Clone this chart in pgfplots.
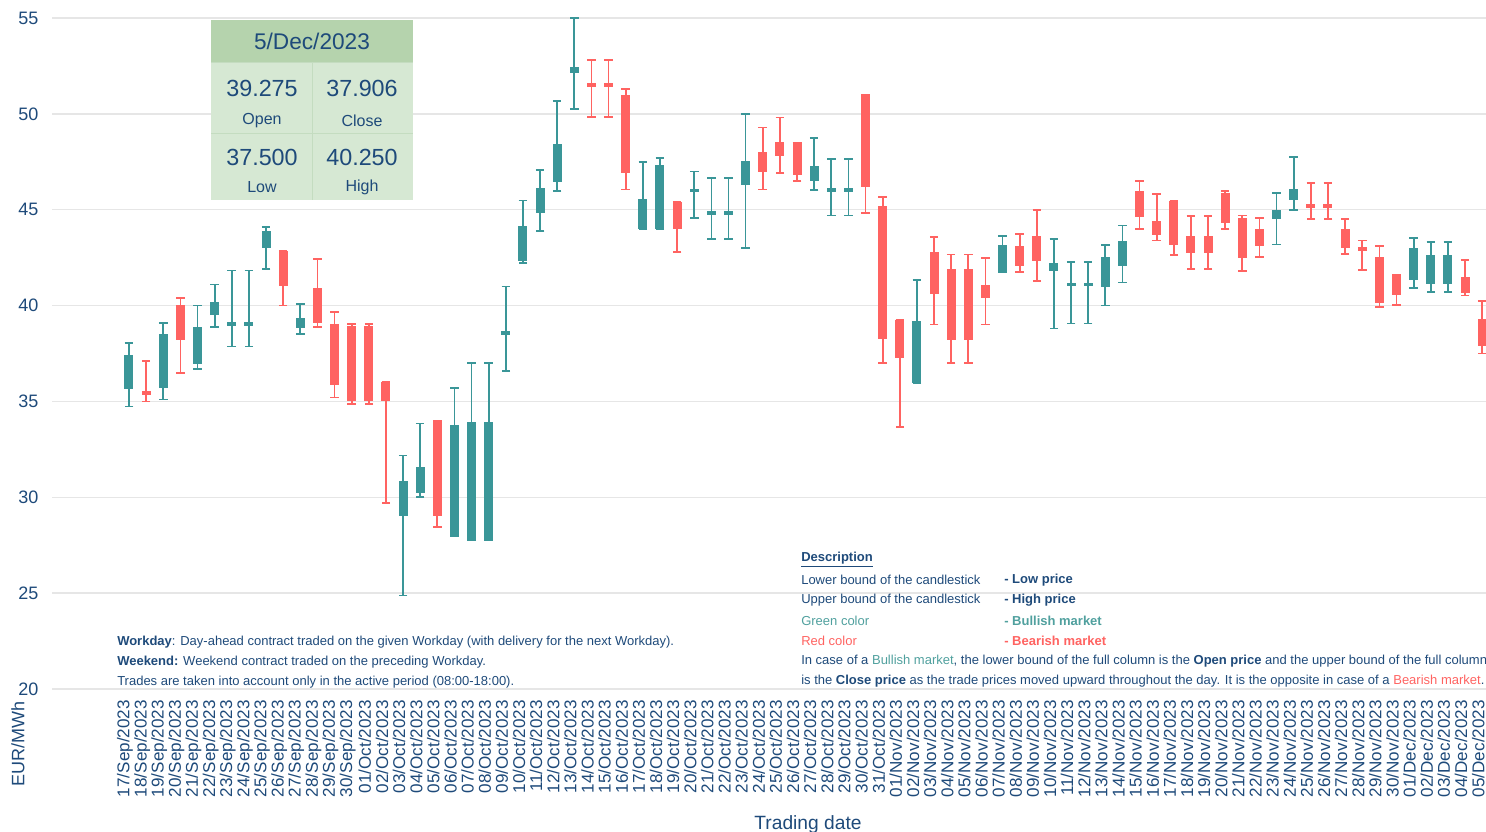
\documentclass[border=0pt]{standalone}
\usepackage{fontspec}
\setmainfont{Liberation Sans}
\usepackage{pgfplots}
\pgfplotsset{compat=1.18}
\usepackage{pgfplotstable}
\definecolor{navy}{RGB}{30,74,122}
\definecolor{bull}{RGB}{58,150,152}
\definecolor{bear}{RGB}{255,99,97}
\definecolor{hdr}{RGB}{181,211,173}
\definecolor{cell}{RGB}{214,232,211}
\definecolor{cellline}{RGB}{196,220,192}
\definecolor{gridc}{RGB}{230,230,230}
\definecolor{bulltxt}{RGB}{80,160,158}

\pgfplotstableread{
x o h l c
0 35.64 38.03 34.74 37.42
2 35.71 39.08 35.10 38.52
4 36.97 40.00 36.69 38.89
5 39.50 41.10 38.90 40.21
6 38.95 41.83 37.87 39.10
7 38.95 41.83 37.87 39.10
8 43.00 44.11 41.92 43.89
10 38.83 40.07 38.50 39.34
16 29.01 32.18 24.88 30.84
17 30.24 33.85 30.00 31.60
19 27.96 35.71 27.96 33.79
20 27.79 37.00 27.79 33.92
21 27.79 37.00 27.79 33.92
22 38.45 41.00 36.59 38.67
23 42.35 45.48 42.22 44.15
24 44.82 47.06 43.89 46.15
25 46.46 50.66 45.98 48.44
26 52.11 55.00 50.25 52.43
30 43.97 47.49 43.97 45.55
31 43.97 47.71 43.97 47.34
33 45.96 47.00 44.56 46.04
34 44.75 46.67 43.48 44.90
35 44.75 46.67 43.48 44.90
36 46.28 50.00 43.02 47.56
40 46.48 48.73 46.01 47.27
41 45.99 47.64 44.70 46.09
42 45.99 47.64 44.70 46.09
46 35.95 41.32 35.95 39.17
51 41.72 43.61 41.72 43.18
54 41.79 43.48 38.80 42.24
55 41.00 42.26 39.06 41.20
56 41.00 42.26 39.06 41.20
57 40.99 43.16 40.00 42.55
58 42.08 44.18 41.20 43.37
67 44.53 45.87 43.19 44.97
68 45.49 47.74 44.98 46.06
75 41.34 43.51 40.90 43.00
76 41.11 43.30 40.71 42.64
77 41.11 43.30 40.71 42.64
}\bulltab

\pgfplotstableread{
x o h l c
1 35.50 37.11 35.00 35.40
3 40.02 40.40 36.50 38.21
9 42.84 42.84 40.00 41.03
11 40.94 42.42 38.87 39.09
12 39.02 39.67 35.21 35.87
13 38.92 39.04 34.88 35.00
14 38.92 39.04 34.88 35.00
15 36.03 36.03 29.70 35.00
18 33.98 33.98 28.44 29.04
27 51.55 52.80 49.82 51.44
28 51.55 52.80 49.82 51.44
29 50.99 51.31 46.05 46.89
32 45.40 45.40 42.79 43.97
37 48.00 49.29 46.05 46.97
38 48.51 49.81 46.91 47.78
39 48.51 48.51 46.49 46.79
43 50.99 50.99 44.84 46.16
44 45.21 45.68 37.01 38.26
45 39.25 39.25 33.68 37.27
47 42.81 43.58 39.01 40.59
48 41.91 42.67 37.01 38.21
49 41.91 42.67 37.01 38.21
50 41.09 42.50 39.01 40.38
52 43.11 43.72 41.77 42.08
53 43.63 44.98 41.30 42.33
59 45.99 46.48 44.01 44.60
60 44.43 45.83 43.40 43.68
61 45.47 45.47 42.62 43.14
62 43.61 44.67 41.91 42.74
63 43.61 44.67 41.91 42.74
64 45.85 45.97 44.01 44.31
65 44.57 44.70 41.81 42.50
66 44.01 44.55 42.52 43.11
69 45.26 46.41 44.50 45.17
70 45.26 46.41 44.50 45.17
71 44.01 44.50 42.69 43.00
72 43.00 43.40 41.86 42.92
73 42.53 43.09 39.93 40.16
74 41.61 41.61 40.02 40.56
78 41.51 42.36 40.52 40.63
79 39.275 40.25 37.50 37.906
}\beartab

\pgfplotsset{
  whisk/.style={draw=none, mark=none,
    error bars/.cd, y dir=both, y explicit, error mark=-,
    error bar style={line width=1.3pt, draw=#1, solid},
    error mark options={rotate=90, line width=1.3pt, mark size=3.2pt, draw=#1, solid}},
  body/.style={draw=none, mark=none,
    error bars/.cd, y dir=both, y explicit, error mark=none,
    error bar style={line width=6.75pt, draw=#1, solid}},
}

\begin{document}
\begin{tikzpicture}
\useasboundingbox (-39pt,-107.25pt) rectangle (1075.5pt,516.75pt);
\begin{axis}[
  at={(0,0)}, anchor=south west,
  scale only axis, width=1075.5pt, height=503.25pt,
  xmin=-4.495, xmax=79.22, ymin=20, ymax=55,
  ytick={20,25,...,55},
  xtick={0,...,79},
  xticklabels={17/Sep/2023,18/Sep/2023,19/Sep/2023,20/Sep/2023,21/Sep/2023,22/Sep/2023,23/Sep/2023,24/Sep/2023,25/Sep/2023,26/Sep/2023,27/Sep/2023,28/Sep/2023,29/Sep/2023,30/Sep/2023,
  01/Oct/2023,02/Oct/2023,03/Oct/2023,04/Oct/2023,05/Oct/2023,06/Oct/2023,07/Oct/2023,08/Oct/2023,09/Oct/2023,10/Oct/2023,11/Oct/2023,12/Oct/2023,13/Oct/2023,14/Oct/2023,15/Oct/2023,16/Oct/2023,17/Oct/2023,18/Oct/2023,19/Oct/2023,20/Oct/2023,21/Oct/2023,22/Oct/2023,23/Oct/2023,24/Oct/2023,25/Oct/2023,26/Oct/2023,27/Oct/2023,28/Oct/2023,29/Oct/2023,30/Oct/2023,31/Oct/2023,
  01/Nov/2023,02/Nov/2023,03/Nov/2023,04/Nov/2023,05/Nov/2023,06/Nov/2023,07/Nov/2023,08/Nov/2023,09/Nov/2023,10/Nov/2023,11/Nov/2023,12/Nov/2023,13/Nov/2023,14/Nov/2023,15/Nov/2023,16/Nov/2023,17/Nov/2023,18/Nov/2023,19/Nov/2023,20/Nov/2023,21/Nov/2023,22/Nov/2023,23/Nov/2023,24/Nov/2023,25/Nov/2023,26/Nov/2023,27/Nov/2023,28/Nov/2023,29/Nov/2023,30/Nov/2023,
  01/Dec/2023,02/Dec/2023,03/Dec/2023,04/Dec/2023,05/Dec/2023},
  ymajorgrids, grid style={gridc, line width=1.1pt},
  axis line style={draw=none},
  major tick length=0pt, tick style={draw=none},
  /pgf/number format/assume math mode=true,
  xticklabel style={rotate=90, anchor=east, yshift=3pt, inner xsep=8.25pt, inner ysep=0pt, font=\fontsize{12.8}{14}\selectfont, text=navy},
  yticklabel style={anchor=east, inner xsep=10pt, font=\fontsize{13.5}{15}\selectfont, text=navy},
]
\addplot[whisk=bull] table[x=x, y expr={(\thisrow{h}+\thisrow{l})/2}, y error expr={(\thisrow{h}-\thisrow{l})/2}] {\bulltab};
\addplot[whisk=bear] table[x=x, y expr={(\thisrow{h}+\thisrow{l})/2}, y error expr={(\thisrow{h}-\thisrow{l})/2}] {\beartab};
\addplot[body=bull] table[x=x, y expr={(\thisrow{o}+\thisrow{c})/2}, y error expr={max(abs(\thisrow{o}-\thisrow{c})/2,0.1)}] {\bulltab};
\addplot[body=bear] table[x=x, y expr={(\thisrow{o}+\thisrow{c})/2}, y error expr={max(abs(\thisrow{o}-\thisrow{c})/2,0.1)}] {\beartab};
\end{axis}

% axis titles
\node[rotate=90, text=navy, font=\fontsize{13.5}{15}\selectfont] at (-25.5pt,-41.25pt) {EUR/MWh};
\node[text=navy, font=\fontsize{14.4}{16}\selectfont] at (567pt,-101.5pt) {Trading date};

% info box
\fill[cell] (119.25pt,366.75pt) rectangle (270.75pt,470.25pt);
\fill[hdr] (119.25pt,470.25pt) rectangle (270.75pt,501.75pt);
\draw[cellline, line width=0.6pt] (195pt,366.75pt) -- (195pt,470.25pt);
\draw[cellline, line width=0.6pt] (119.25pt,417pt) -- (270.75pt,417pt);
\draw[cellline, line width=0.6pt] (119.25pt,470.25pt) -- (270.75pt,470.25pt);
\node[text=navy, font=\fontsize{17}{19}\selectfont] at (195pt,486pt) {5/Dec/2023};
\node[text=navy, font=\fontsize{17.5}{19}\selectfont] at (157.5pt,450.75pt) {39.275};
\node[text=navy, font=\fontsize{17.5}{19}\selectfont] at (232.5pt,450.75pt) {37.906};
\node[text=navy, font=\fontsize{12}{14}\selectfont] at (157.5pt,426.5pt) {Open};
\node[text=navy, font=\fontsize{12}{14}\selectfont] at (232.5pt,426.5pt) {Close};
\node[text=navy, font=\fontsize{17.5}{19}\selectfont] at (157.5pt,399pt) {37.500};
\node[text=navy, font=\fontsize{17.5}{19}\selectfont] at (232.5pt,399pt) {40.250};
\node[text=navy, font=\fontsize{12}{14}\selectfont] at (157.5pt,376.5pt) {Low};
\node[text=navy, font=\fontsize{12}{14}\selectfont] at (232.5pt,376.5pt) {High};

% left notes
\begin{scope}[every node/.style={anchor=west, inner sep=0pt, text=navy, font=\fontsize{9.75}{11}\selectfont}]
\node at (48.75pt,35.5pt) {\textbf{Workday}: Day-ahead contract traded on the given Workday (with delivery for the next Workday).};
\node at (48.75pt,20.5pt) {\textbf{Weekend:} Weekend contract traded on the preceding Workday.};
\node at (48.75pt,5.5pt) {Trades are taken into account only in the active period (08:00-18:00).};

% description
\node at (561.75pt,97pt) {\textbf{\underline{Description}}};
\node at (561.75pt,81.75pt) {Lower bound of the candlestick};
\node at (714pt,81.75pt) {\textbf{- Low price}};
\node at (561.75pt,66.75pt) {Upper bound of the candlestick};
\node at (714pt,66.75pt) {\textbf{- High price}};
\node[text=bulltxt] at (561.75pt,51.25pt) {Green color};
\node[text=bulltxt] at (714pt,51.25pt) {\textbf{- Bullish market}};
\node[text=bear] at (561.75pt,36.25pt) {Red color};
\node[text=bear] at (714pt,36.25pt) {\textbf{- Bearish market}};
\node at (561.75pt,21.25pt) {In case of a \textcolor{bulltxt}{Bullish market}, the lower bound of the full column is the \textbf{Open price} and the upper bound of the full column};
\node at (561.75pt,6.25pt) {is the \textbf{Close price} as the trade prices moved upward throughout the day. It is the opposite in case of a \textcolor{bear}{Bearish market}.};
\end{scope}
\end{tikzpicture}
\end{document}
